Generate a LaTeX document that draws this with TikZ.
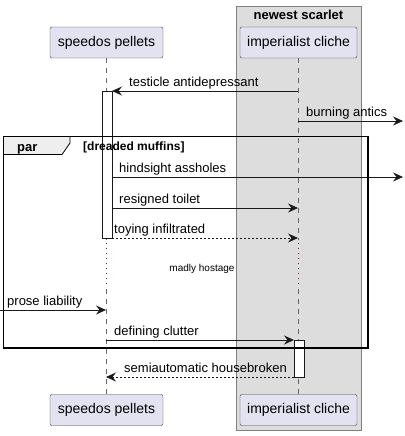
\documentclass[tikz,border=0pt]{standalone}
\usepackage{fontspec}
\setmainfont{Liberation Sans}
\usetikzlibrary{arrows.meta}
\definecolor{partfill}{HTML}{E2E2F0}
\definecolor{boxfill}{HTML}{DDDDDD}
\definecolor{tabfill}{HTML}{EEEEEE}
\definecolor{delayred}{HTML}{8E1040}
\tikzset{
	part/.style={draw=black!75, fill=partfill, rounded corners=2pt, minimum height=31pt, inner sep=0, font=\fontsize{14}{16}\selectfont},
	msg/.style={-{Stealth[length=10pt,width=9pt,inset=3.5pt]}, line width=0.8pt, color=black!90},
	reply/.style={msg, dash pattern=on 2pt off 2pt},
	lbl/.style={font=\fontsize{13}{15}\selectfont, anchor=base west, inner sep=0},
	life/.style={draw=black!60, line width=0.6pt, dash pattern=on 5pt off 5pt},
	delay/.style={draw=delayred, line width=0.9pt, dash pattern=on 1pt off 4pt},
	actbar/.style={draw=black!90, fill=white, line width=0.8pt},
}
\begin{document}
\begin{tikzpicture}[x=1pt,y=-1pt]
	%%%%% START %%%%%
	\useasboundingbox (0,0) rectangle (404,436);
	
	% box round the second participant
	\draw[fill=boxfill, draw=black!50, line width=0.8pt] (236,6) rectangle (361,430);
	\node[font=\bfseries\fontsize{13}{15}\selectfont] (boxtitle) at (298.5,15) {newest scarlet};
	
	% lifelines
	\draw[life] (106,58) -- (106,240);
	\draw[delay] (106,243) -- (106,287);
	\draw[life] (106,289) -- (106,394);
	\draw[life] (298,58) -- (298,240);
	\draw[delay] (298,243) -- (298,287);
	\draw[life] (298,289) -- (298,394);
	
	% participants
	\node[part, minimum width=113pt] (spTop) at (106.5,42.5) {speedos pellets};
	\node[part, minimum width=117pt] (imTop) at (298.5,42.5) {imperialist cliche};
	\node[part, minimum width=113pt] (spBot) at (106.5,410) {speedos pellets};
	\node[part, minimum width=117pt] (imBot) at (298.5,410) {imperialist cliche};
	
	% activations
	\draw[actbar] (102,91) rectangle (112,238);
	\draw[actbar] (294,340) rectangle (304,377);
	
	% message ends
	\coordinate (a1) at (298,91);   \coordinate (b1) at (112,91);
	\coordinate (a2) at (298,121);  \coordinate (b2) at (403,121);
	\coordinate (a3) at (112,177);  \coordinate (b3) at (403,177);
	\coordinate (a4) at (112,208);  \coordinate (b4) at (298,208);
	\coordinate (a5) at (112,238);  \coordinate (b5) at (298,238);
	\coordinate (a6) at (0,310);    \coordinate (b6) at (106,310);
	\coordinate (a7) at (106,340);  \coordinate (b7) at (294,340);
	\coordinate (a8) at (294,377);  \coordinate (b8) at (106,377);
	
	\draw[msg] (a1) -- (b1);
	\node[lbl] (t1) at (129,86) {testicle antidepressant};
	\draw[msg] (a2) -- (b2);
	\node[lbl] (t2) at (306,116) {burning antics};
	\draw[msg] (a3) -- (b3);
	\node[lbl] (t3) at (119,172) {hindsight assholes};
	\draw[msg] (a4) -- (b4);
	\node[lbl] (t4) at (119,203) {resigned toilet};
	\draw[reply] (a5) -- (b5);
	\node[lbl] (t5) at (114,233) {toying infiltrated};
	\node[font=\fontsize{10}{12}\selectfont, anchor=base] (dl) at (202,271) {madly hostage};
	\draw[msg] (a6) -- (b6);
	\node[lbl] (t6) at (7,305) {prose liability};
	\draw[msg] (a7) -- (b7);
	\node[lbl] (t7) at (114,335) {defining clutter};
	\draw[reply] (a8) -- (b8);
	\node[lbl] (t8) at (124,372) {semiautomatic housebroken};
	
	% par frame
	\draw[fill=tabfill, line width=0.8pt] (3.5,136.5) -- (70,136.5) -- (70,143) -- (62,154.5) -- (3.5,154.5);
	\draw[line width=1.5pt] (3.5,136.5) rectangle (368,348);
	\node[font=\bfseries\fontsize{13}{15}\selectfont, anchor=base west, inner sep=0] (partag) at (17,151) {par};
	\node[font=\bfseries\fontsize{12}{14}\selectfont, anchor=base west, inner sep=0] (parcond) at (83,150) {[dreaded muffins]};
	
	%%%%% END %%%%%
\end{tikzpicture}
\end{document}
